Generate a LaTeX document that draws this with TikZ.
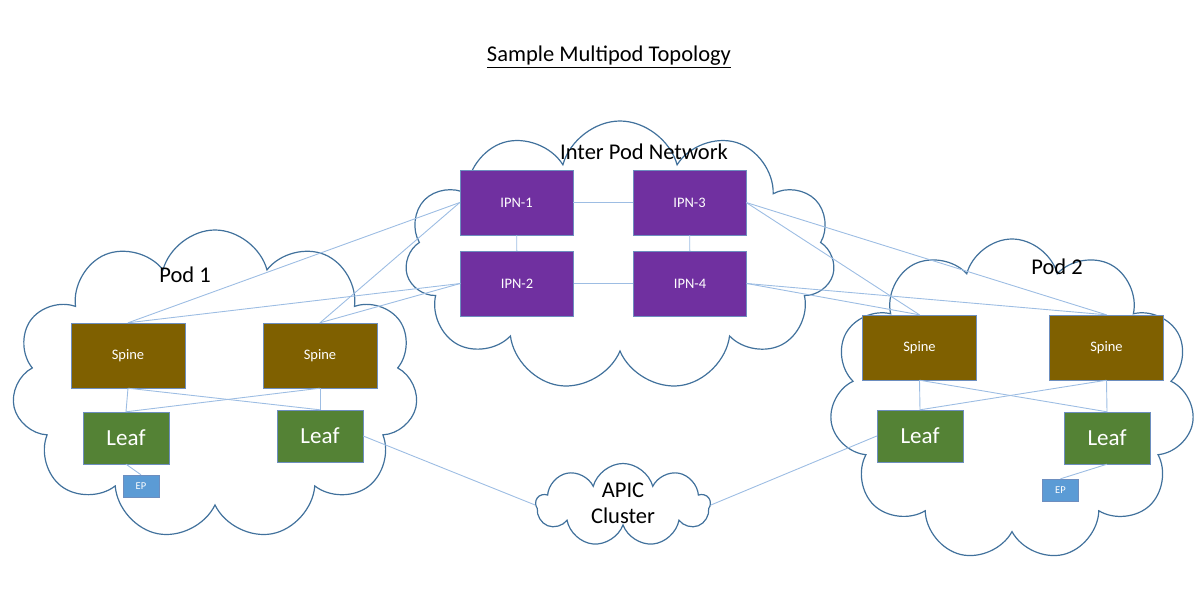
\documentclass[tikz,border=0pt]{standalone}
\usepackage{fontspec}
\setmainfont{Carlito}
\usetikzlibrary{shapes.symbols}
\definecolor{ipnpurple}{HTML}{7030A0}
\definecolor{spinebrown}{HTML}{7F6000}
\definecolor{leafgreen}{HTML}{548235}
\definecolor{epblue}{HTML}{5B9BD5}
\definecolor{boxedge}{HTML}{6D8EBF}
\definecolor{linkblue}{HTML}{9DBDE3}
\definecolor{cloudedge}{HTML}{41719C}
\begin{document}
\begin{tikzpicture}[x=1pt,y=-1pt,
    podcloud/.style={cloud, cloud puffs=11, cloud ignores aspect, draw=cloudedge, line width=1.2pt, inner sep=0pt},
    link/.style={draw=linkblue, line width=0.9pt},
    ipnbox/.style={draw=boxedge, fill=ipnpurple, text=white, minimum width=113, minimum height=65, font=\fontsize{14.5}{17}\selectfont},
    spinebox/.style={draw=boxedge, fill=spinebrown, text=white, minimum width=114, minimum height=65, font=\fontsize{14.5}{17}\selectfont},
    leafbox/.style={draw=boxedge, fill=leafgreen, text=white, minimum width=86, minimum height=52, font=\fontsize{23}{26}\selectfont},
    epbox/.style={draw=boxedge, fill=epblue, text=white, minimum width=36, minimum height=22, inner sep=0pt, font=\fontsize{10.5}{12}\selectfont},
    cloudlabel/.style={font=\fontsize{22.5}{26}\selectfont}]
        \useasboundingbox (0,0) rectangle (1200,591);

        % title
        \node[font=\fontsize{22.5}{26}\selectfont] (title) at (609,57) {\underline{Sample Multipod Topology}};

        % clouds
        \node[podcloud, minimum width=430, minimum height=270] (ipncloud) at (620,256) {};
        \node[podcloud, minimum width=406, minimum height=310] (pod1cloud) at (215,385) {};
        \node[podcloud, minimum width=365, minimum height=322] (pod2cloud) at (1012,400) {};
        \node[podcloud, cloud puffs=9, minimum width=174, minimum height=83] (apic) at (623,505) {};
        \node[cloudlabel] (ipnlabel) at (644,152) {Inter Pod Network};
        \node[cloudlabel] (pod1label) at (185,275) {Pod 1};
        \node[cloudlabel] (pod2label) at (1057,267) {Pod 2};
        \node[cloudlabel, align=center] (apiclabel) at (623,503) {APIC\\Cluster};

        % inter pod network
        \node[ipnbox] (ipn1) at (516.5,202.5) {IPN-1};
        \node[ipnbox] (ipn2) at (517,283.5) {IPN-2};
        \node[ipnbox] (ipn3) at (689.5,202.5) {IPN-3};
        \node[ipnbox] (ipn4) at (690,283.5) {IPN-4};

        % pod 1
        \node[spinebox] (spineA) at (128,355.5) {Spine};
        \node[spinebox] (spineB) at (320,355.5) {Spine};
        \node[leafbox] (leafA) at (126,438) {Leaf};
        \node[leafbox] (leafB) at (320,436) {Leaf};
        \node[epbox] (epA) at (141,486) {EP};

        % pod 2
        \node[spinebox] (spineC) at (919.5,347.5) {Spine};
        \node[spinebox] (spineD) at (1106.5,347.5) {Spine};
        \node[leafbox] (leafC) at (920,436) {Leaf};
        \node[leafbox] (leafD) at (1107,438) {Leaf};
        \node[epbox] (epB) at (1060.5,490) {EP};

        % links
        \draw[link] (ipn1) -- (ipn3);
        \draw[link] (ipn2) -- (ipn4);
        \draw[link] (ipn1) -- (ipn2);
        \draw[link] (ipn3) -- (ipn4);

        \draw[link] (ipn1.west) -- (spineA.north);
        \draw[link] (ipn1.west) -- (spineB.north);
        \draw[link] (ipn2.west) -- (spineA.north);
        \draw[link] (ipn2.west) -- (spineB.north);
        \draw[link] (ipn3.east) -- (spineC.north);
        \draw[link] (ipn3.east) -- (spineD.north);
        \draw[link] (ipn4.east) -- (spineC.north);
        \draw[link] (ipn4.east) -- (spineD.north);

        \draw[link] (spineA.south) -- (leafA.north);
        \draw[link] (spineA.south) -- (leafB.north);
        \draw[link] (spineB.south) -- (leafA.north);
        \draw[link] (spineB.south) -- (leafB.north);
        \draw[link] (spineC.south) -- (leafC.north);
        \draw[link] (spineC.south) -- (leafD.north);
        \draw[link] (spineD.south) -- (leafC.north);
        \draw[link] (spineD.south) -- (leafD.north);

        \draw[link] (leafA.south) -- (epA.north);
        \draw[link] (leafD.south) -- (epB.north);
        \draw[link] (leafB.east) -- (apic.west);
        \draw[link] (leafC.west) -- (apic.east);
\end{tikzpicture}
\end{document}
